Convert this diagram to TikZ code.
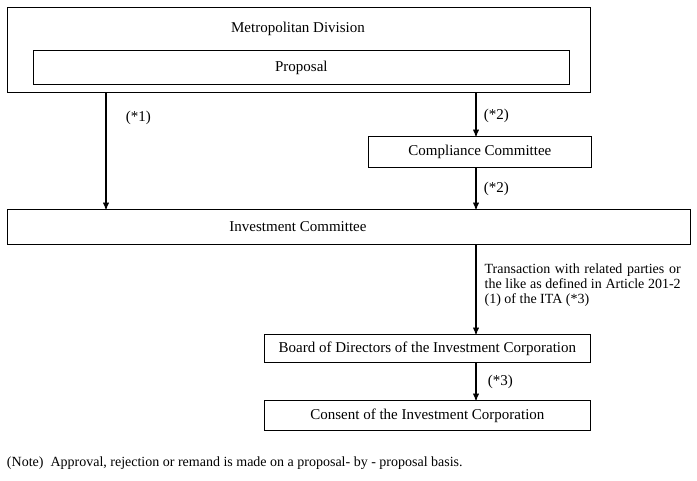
\documentclass[tikz,border=0pt]{standalone}
\usepackage{fontspec}
\setmainfont{Liberation Serif}
\usetikzlibrary{arrows}
\usetikzlibrary{positioning}

\begin{document}
\begin{tikzpicture}[x=1pt,y=-1pt,->,>=stealth',
  font=\fontsize{15}{17}\selectfont]

  \tikzstyle{panel}=[rectangle,draw,line width=.8pt,inner sep=0pt,anchor=north west];
  \tikzstyle{note}=[font=\fontsize{14}{16}\selectfont];
  \tikzstyle{every path}=[line width=1.3pt]

  \useasboundingbox (0,0) rectangle (697,480);

  \node[panel,minimum width=583,minimum height=85] (metro) at (7,7) {};
  \node (metrotxt) at (298,29) {Metropolitan Division};
  \node[panel,minimum width=536,minimum height=34] (proposal) at (33,50) {Proposal};
  \node[panel,minimum width=223,minimum height=31] (compliance) at (368,136) {Compliance Committee};
  \node[panel,minimum width=683,minimum height=35] (invest) at (7,209) {};
  \node (investtxt) at (298,227) {Investment Committee};
  \node[panel,minimum width=326,minimum height=28] (board) at (264,334) {Board of Directors of the Investment Corporation};
  \node[panel,minimum width=326,minimum height=30] (consent) at (264,400) {Consent of the Investment Corporation};

  \coordinate (m1) at (106,92);
  \coordinate (i1) at (106,209);
  \coordinate (m2) at (476,92);

  \draw (m1) -- node[right=16pt,pos=.22] {(*1)} (i1);
  \draw (m2) -- node[right=4pt,pos=.55] {(*2)} (m2 |- compliance.north);
  \draw (compliance.south -| m2) -- node[right=4pt,pos=.5] {(*2)} (invest.north -| m2);
  \draw (invest.south -| m2) -- node[right=8pt,pos=.45,text width=196,align=justify,inner sep=0pt,
      font=\fontsize{14}{15}\selectfont]
      {Transaction with related parties or the like as defined in Article 201-2 (1) of the ITA (*3)}
      (board.north -| m2);
  \draw (board.south -| m2) -- node[right=8pt,pos=.5] {(*3)} (consent.north -| m2);

  \node[note,anchor=west] (footnote) at (3,463)
    {(Note)\ \ Approval, rejection or remand is made on a proposal- by - proposal basis.};

\end{tikzpicture}
\end{document}
